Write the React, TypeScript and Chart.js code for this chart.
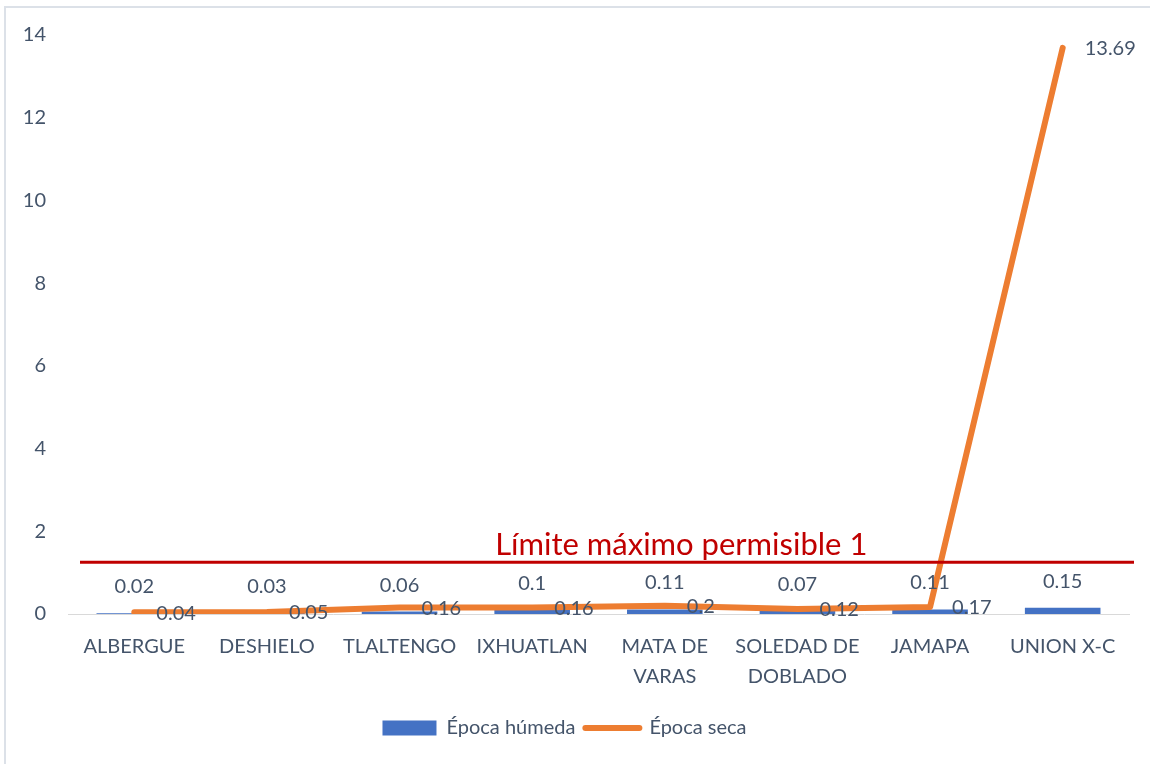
import React, { useEffect, useRef } from "react";
import { Chart, registerables } from "chart.js";

Chart.register(...registerables);

const categories: (string | string[])[] = [
  "ALBERGUE",
  "DESHIELO",
  "TLALTENGO",
  "IXHUATLAN",
  ["MATA DE", "VARAS"],
  ["SOLEDAD DE", "DOBLADO"],
  "JAMAPA",
  "UNION X-C",
];
const epocaHumeda = [0.02, 0.03, 0.06, 0.1, 0.11, 0.07, 0.11, 0.15];
const epocaSeca = [0.04, 0.05, 0.16, 0.16, 0.2, 0.12, 0.17, 13.69];
const yTicks = [0, 2, 4, 6, 8, 10, 12, 14];
const limiteValor = 1.25;
const limiteTexto = "Límite máximo permisible 1";

const FONT = "Lato, 'Open Sans', sans-serif";
const TEXT_COLOR = "#44546A";
const FS = 20;

const overlayPlugin = {
  id: "overlay",
  beforeDraw(chart: any) {
    const ctx = chart.ctx;
    ctx.save();
    ctx.strokeStyle = "#DCE1E8";
    ctx.lineWidth = 2;
    ctx.strokeRect(5, 7, chart.width + 20, chart.height + 20);
    ctx.restore();
  },
  afterDatasetsDraw(chart: any) {
    const ctx = chart.ctx;
    const { chartArea, scales } = chart;
    ctx.save();
    ctx.font = `${FS}px ${FONT}`;
    ctx.fillStyle = TEXT_COLOR;
    // bar labels
    const barMeta = chart.getDatasetMeta(0);
    barMeta.data.forEach((el: any, i: number) => {
      ctx.textAlign = "center";
      ctx.textBaseline = "alphabetic";
      ctx.fillText(String(epocaHumeda[i]), el.x, el.y - 20);
    });
    // line labels
    const lineMeta = chart.getDatasetMeta(1);
    lineMeta.data.forEach((el: any, i: number) => {
      ctx.textAlign = "left";
      ctx.textBaseline = "middle";
      ctx.fillText(String(epocaSeca[i]), el.x + 22, el.y + 1);
    });
    // limit line
    const y = scales.y.getPixelForValue(limiteValor);
    ctx.strokeStyle = "#C00000";
    ctx.lineWidth = 3;
    ctx.beginPath();
    ctx.moveTo(chartArea.left + 12, y);
    ctx.lineTo(chartArea.right + 5, y);
    ctx.stroke();
    ctx.font = `31px ${FONT}`;
    ctx.fillStyle = "#C00000";
    ctx.textAlign = "center";
    ctx.textBaseline = "alphabetic";
    ctx.fillText(limiteTexto, chartArea.left + 0.578 * (chartArea.right - chartArea.left), y - 7);
    ctx.restore();
  },
};

export default function App() {
  const ref = useRef<HTMLCanvasElement | null>(null);
  useEffect(() => {
    document.body.style.margin = "0";
    if (!ref.current) return;
    const chart = new Chart(ref.current, {
      data: {
        labels: categories as any,
        datasets: [
          {
            type: "bar",
            label: "Época húmeda",
            data: epocaHumeda,
            backgroundColor: "#4472C4",
            borderWidth: 0,
            barPercentage: 0.57,
            categoryPercentage: 1,
            order: 2,
          },
          {
            type: "line",
            label: "Época seca",
            data: epocaSeca,
            borderColor: "#ED7D31",
            backgroundColor: "#ED7D31",
            borderWidth: 6,
            borderCapStyle: "round",
            borderJoinStyle: "round",
            pointRadius: 0,
            tension: 0,
            order: 1,
          },
        ],
      } as any,
      options: {
        animation: false,
        responsive: false,
        maintainAspectRatio: false,
        layout: { padding: { top: 35, right: 21, bottom: 16, left: 0 } },
        plugins: {
          tooltip: { enabled: false },
          legend: {
            position: "bottom",
            labels: {
              font: { family: FONT, size: FS },
              color: TEXT_COLOR,
              usePointStyle: true,
              pointStyleWidth: 54,
              boxHeight: 15,
              padding: 10,
              generateLabels: () => [
                {
                  text: "Época húmeda",
                  fillStyle: "#4472C4",
                  strokeStyle: "#4472C4",
                  lineWidth: 0,
                  pointStyle: "rect",
                  datasetIndex: 0,
                  fontColor: TEXT_COLOR,
                },
                {
                  text: "Época seca",
                  fillStyle: "#ED7D31",
                  strokeStyle: "#ED7D31",
                  lineWidth: 6,
                  lineCap: "round",
                  pointStyle: "line",
                  datasetIndex: 1,
                  fontColor: TEXT_COLOR,
                },
              ],
            },
          },
        },
        scales: {
          x: {
            grid: { display: false },
            border: { display: true, color: "#D9D9D9", width: 1 },
            ticks: {
              font: { family: FONT, size: FS, lineHeight: 1.5 },
              color: TEXT_COLOR,
              padding: 10,
              maxRotation: 0,
              autoSkip: false,
            },
            afterFit: (s: any) => {
              s.height = 94;
            },
          },
          y: {
            min: 0,
            max: 14,
            grid: { display: false },
            border: { display: false },
            afterBuildTicks: (s: any) => {
              s.ticks = yTicks.map((v) => ({ value: v }));
            },
            ticks: {
              font: { family: FONT, size: FS },
              color: TEXT_COLOR,
              padding: 14,
            },
            afterFit: (s: any) => {
              s.width = 68;
            },
          },
        },
      } as any,
      plugins: [overlayPlugin],
    });
    return () => chart.destroy();
  }, []);
  return (
    <div style={{ position: "absolute", left: 0, top: 0, width: 1150, height: 764, background: "#fff" }}>
      <canvas ref={ref} width={1150} height={764} style={{ width: 1150, height: 764 }} />
    </div>
  );
}
